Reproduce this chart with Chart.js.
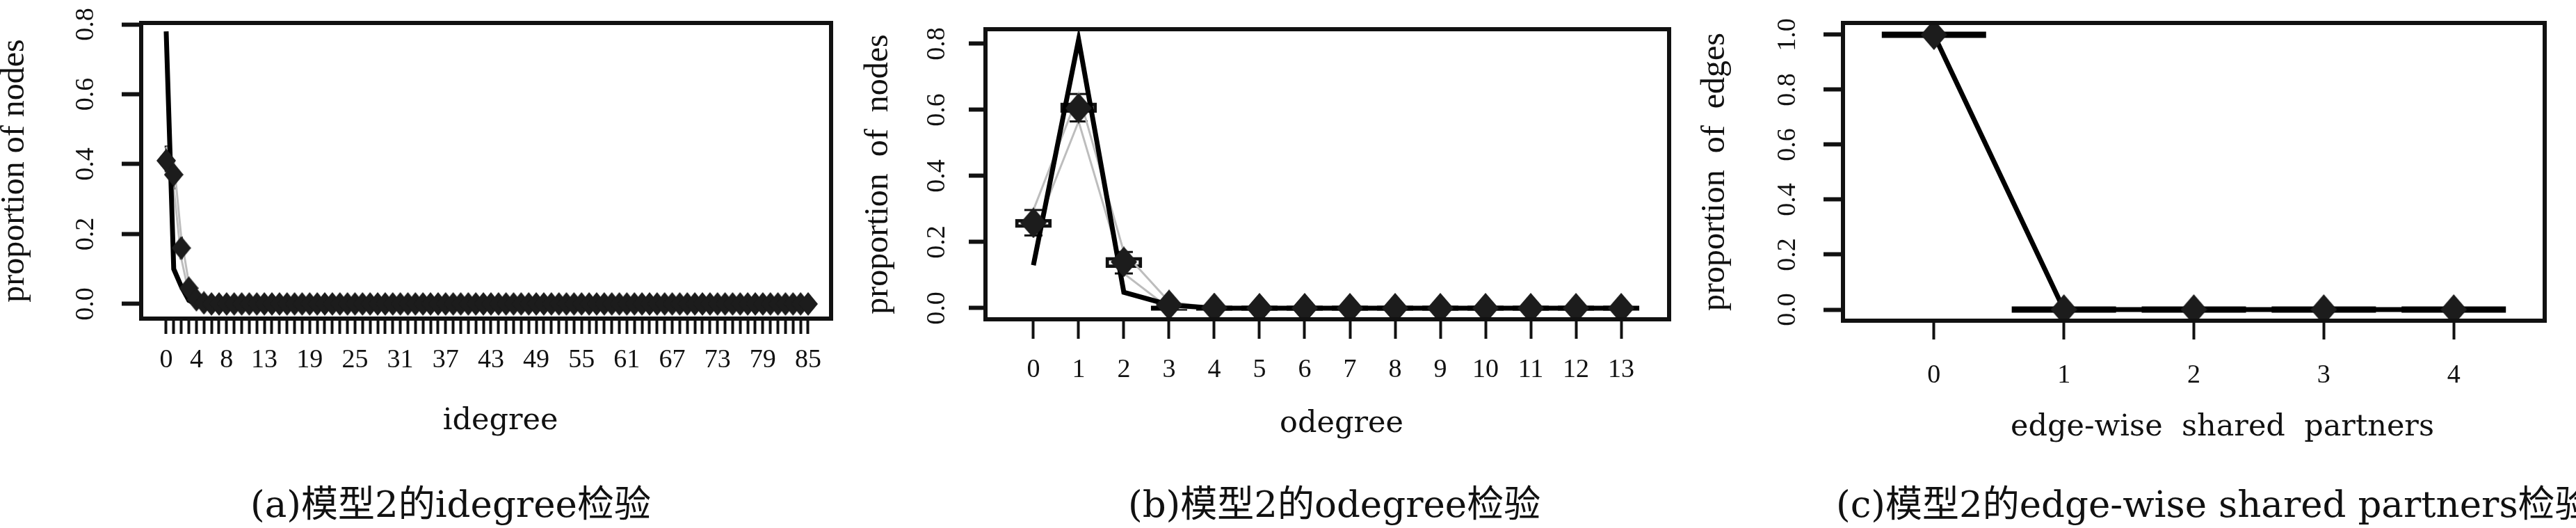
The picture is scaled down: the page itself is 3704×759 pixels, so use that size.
<!DOCTYPE html>
<html>
<head>
<meta charset="utf-8">
<script src="https://cdn.jsdelivr.net/npm/chart.js@4.4.0/dist/chart.umd.min.js"></script>
<style>
  body { margin: 0; background: #fff; width: 3704px; height: 759px; position: relative; overflow: hidden; }
  canvas { position: absolute; top: 0; }
  .cap { position: absolute; top: 698px; font: 53px/53px "DejaVu Serif", "Noto Sans CJK SC", serif; color: #111; white-space: nowrap; }
</style>
</head>
<body>
<canvas id="idegChart" width="1230" height="660" style="left:0px"></canvas>
<canvas id="odegChart" width="1200" height="660" style="left:1240px"></canvas>
<canvas id="espChart" width="1264" height="660" style="left:2440px"></canvas>
<div class="cap" style="left:360px">(a)模型2的idegree检验</div>
<div class="cap" style="left:1622px">(b)模型2的odegree检验</div>
<div class="cap" style="left:2640px">(c)模型2的edge-wise shared partners检验</div>
<script>
// (a) idegree
const idegCats = [0, 1, 2, 3, 4, 5, 6, 7, 8, 9,
  10, 11, 12, 13, 14, 15, 16, 17, 18, 19,
  20, 21, 22, 23, 24, 25, 26, 27, 28, 29,
  30, 31, 32, 33, 34, 35, 36, 37, 38, 39,
  40, 41, 42, 43, 44, 45, 46, 47, 48, 49,
  50, 51, 52, 53, 54, 55, 56, 57, 58, 59,
  60, 61, 62, 63, 64, 65, 66, 67, 68, 69,
  70, 71, 72, 73, 74, 75, 76, 77, 78, 79,
  80, 81, 82, 83, 84, 85];
const idegShown = [0, 4, 8, 13, 19, 25, 31, 37, 43, 49, 55, 61, 67, 73, 79, 85];
const idegObserved = [0.78, 0.10, 0.05, 0.01, 0, 0, 0, 0, 0, 0,
  0, 0, 0, 0, 0, 0, 0, 0, 0, 0,
  0, 0, 0, 0, 0, 0, 0, 0, 0, 0,
  0, 0, 0, 0, 0, 0, 0, 0, 0, 0,
  0, 0, 0, 0, 0, 0, 0, 0, 0, 0,
  0, 0, 0, 0, 0, 0, 0, 0, 0, 0,
  0, 0, 0, 0, 0, 0, 0, 0, 0, 0,
  0, 0, 0, 0, 0, 0, 0, 0, 0, 0,
  0, 0, 0, 0, 0, 0];
const idegMean = [0.41, 0.37, 0.16, 0.045, 0.012, 0.003, 0, 0, 0, 0,
  0, 0, 0, 0, 0, 0, 0, 0, 0, 0,
  0, 0, 0, 0, 0, 0, 0, 0, 0, 0,
  0, 0, 0, 0, 0, 0, 0, 0, 0, 0,
  0, 0, 0, 0, 0, 0, 0, 0, 0, 0,
  0, 0, 0, 0, 0, 0, 0, 0, 0, 0,
  0, 0, 0, 0, 0, 0, 0, 0, 0, 0,
  0, 0, 0, 0, 0, 0, 0, 0, 0, 0,
  0, 0, 0, 0, 0, 0];
const idegQ1 = [0.40, 0.355, 0.15, 0.04, 0.008, 0, 0, 0, 0, 0,
  0, 0, 0, 0, 0, 0, 0, 0, 0, 0,
  0, 0, 0, 0, 0, 0, 0, 0, 0, 0,
  0, 0, 0, 0, 0, 0, 0, 0, 0, 0,
  0, 0, 0, 0, 0, 0, 0, 0, 0, 0,
  0, 0, 0, 0, 0, 0, 0, 0, 0, 0,
  0, 0, 0, 0, 0, 0, 0, 0, 0, 0,
  0, 0, 0, 0, 0, 0, 0, 0, 0, 0,
  0, 0, 0, 0, 0, 0];
const idegQ3 = [0.425, 0.39, 0.17, 0.05, 0.016, 0.005, 0, 0, 0, 0,
  0, 0, 0, 0, 0, 0, 0, 0, 0, 0,
  0, 0, 0, 0, 0, 0, 0, 0, 0, 0,
  0, 0, 0, 0, 0, 0, 0, 0, 0, 0,
  0, 0, 0, 0, 0, 0, 0, 0, 0, 0,
  0, 0, 0, 0, 0, 0, 0, 0, 0, 0,
  0, 0, 0, 0, 0, 0, 0, 0, 0, 0,
  0, 0, 0, 0, 0, 0, 0, 0, 0, 0,
  0, 0, 0, 0, 0, 0];
const idegLo = [0.38, 0.33, 0.13, 0.03, 0, 0, 0, 0, 0, 0,
  0, 0, 0, 0, 0, 0, 0, 0, 0, 0,
  0, 0, 0, 0, 0, 0, 0, 0, 0, 0,
  0, 0, 0, 0, 0, 0, 0, 0, 0, 0,
  0, 0, 0, 0, 0, 0, 0, 0, 0, 0,
  0, 0, 0, 0, 0, 0, 0, 0, 0, 0,
  0, 0, 0, 0, 0, 0, 0, 0, 0, 0,
  0, 0, 0, 0, 0, 0, 0, 0, 0, 0,
  0, 0, 0, 0, 0, 0];
const idegHi = [0.45, 0.41, 0.19, 0.06, 0.02, 0.01, 0, 0, 0, 0,
  0, 0, 0, 0, 0, 0, 0, 0, 0, 0,
  0, 0, 0, 0, 0, 0, 0, 0, 0, 0,
  0, 0, 0, 0, 0, 0, 0, 0, 0, 0,
  0, 0, 0, 0, 0, 0, 0, 0, 0, 0,
  0, 0, 0, 0, 0, 0, 0, 0, 0, 0,
  0, 0, 0, 0, 0, 0, 0, 0, 0, 0,
  0, 0, 0, 0, 0, 0, 0, 0, 0, 0,
  0, 0, 0, 0, 0, 0];

// (b) odegree
const odegCats = [0, 1, 2, 3, 4, 5, 6, 7, 8, 9, 10, 11, 12, 13];
const odegObserved = [0.13, 0.8125, 0.048, 0.01, 0, 0, 0, 0, 0, 0, 0, 0, 0, 0];
const odegMean = [0.258, 0.605, 0.14, 0.01, 0.001, 0, 0, 0, 0, 0, 0, 0, 0, 0];
const odegQ1 = [0.244, 0.592, 0.122, 0, 0, 0, 0, 0, 0, 0, 0, 0, 0, 0];
const odegQ3 = [0.269, 0.621, 0.154, 0, 0, 0, 0, 0, 0, 0, 0, 0, 0, 0];
const odegLo = [0.22, 0.565, 0.105, 0, 0, 0, 0, 0, 0, 0, 0, 0, 0, 0];
const odegHi = [0.297, 0.648, 0.17, 0.02, 0, 0, 0, 0, 0, 0, 0, 0, 0, 0];

// (c) edge-wise shared partners
const espCats = [0, 1, 2, 3, 4];
const espObserved = [1, 0, 0, 0, 0];
const espMean = [1, 0, 0, 0, 0];
const espQ1 = [1, 0, 0, 0, 0];
const espQ3 = [1, 0, 0, 0, 0];
const espLo = [1, 0, 0, 0, 0];
const espHi = [1, 0, 0, 0, 0];

const yTicks08 = [0, 0.2, 0.4, 0.6, 0.8];
const yTicks10 = [0, 0.2, 0.4, 0.6, 0.8, 1.0];

const ink = "#111";
const tickFont = { family: "'Liberation Serif', serif", size: 38, lineHeight: 1.2 };

function diamond(w, h) {
  const c = document.createElement("canvas");
  c.width = w;
  c.height = h;
  const g = c.getContext("2d");
  g.fillStyle = "#1c1c1c";
  g.beginPath();
  g.moveTo(w / 2, 0);
  g.lineTo(w, h / 2);
  g.lineTo(w / 2, h);
  g.lineTo(0, h / 2);
  g.closePath();
  g.fill();
  return c;
}

const frame = {
  id: "frame",
  afterDraw(chart) {
    const { ctx, chartArea: a } = chart;
    ctx.save();
    ctx.lineWidth = 6;
    ctx.strokeStyle = ink;
    ctx.strokeRect(a.left, a.top, a.right - a.left, a.bottom - a.top);
    ctx.restore();
  },
};

function pts(cats, vals) {
  return cats.map((c, i) => ({ x: c, y: vals[i] }));
}

function drawPanel(id, d, s) {
  const boxes = d.cats.map((c, i) => ({ x: c, y: [d.q1[i], d.q3[i]] })).filter((p) => p.y[1] > p.y[0]);
  const flat = d.cats.map((c, i) => ({ x: c, y: d.q1[i] })).filter((p, i) => d.q3[i] === d.q1[i]);
  const whisk = d.cats.map((c, i) => ({ x: c, y: [d.lo[i], d.hi[i]] })).filter((p) => p.y[1] > p.y[0]);
  const caps = whisk.flatMap((p) => [{ x: p.x, y: p.y[0] }, { x: p.x, y: p.y[1] }]);

  return new Chart(document.getElementById(id), {
    type: "scatter",
    data: {
      datasets: [
        { type: "bar", data: whisk, backgroundColor: ink, barThickness: 2, grouped: false, order: 7 },
        { type: "scatter", data: caps, pointStyle: "line", pointRadius: s.capR, pointBorderWidth: 3, pointBorderColor: ink, order: 6 },
        { type: "bar", data: boxes, backgroundColor: "#fff", borderColor: ink, borderWidth: s.boxBorder,
          borderSkipped: false, barThickness: s.boxW, grouped: false, order: 5 },
        { type: "scatter", data: flat, pointStyle: "line", pointRadius: s.boxW / 2, pointBorderWidth: s.medW, pointBorderColor: "#000", order: 4 },
        { type: "line", data: pts(d.cats, d.lo), borderColor: "#bdbdbd", borderWidth: 3, pointRadius: 0, tension: 0, order: 3 },
        { type: "line", data: pts(d.cats, d.hi), borderColor: "#bdbdbd", borderWidth: 3, pointRadius: 0, tension: 0, order: 3 },
        { type: "line", data: pts(d.cats, d.observed), borderColor: "#000", borderWidth: 7, pointRadius: 0, tension: 0, order: 2 },
        { type: "scatter", data: pts(d.cats, d.mean), pointStyle: diamond(s.dw, s.dh), pointRadius: s.dw / 2, order: 1 },
      ],
    },
    plugins: [frame],
    options: {
      responsive: false,
      animation: false,
      devicePixelRatio: 1,
      layout: { autoPadding: false, padding: { left: 0, top: s.top, right: s.right, bottom: 0 } },
      plugins: { legend: { display: false }, tooltip: { enabled: false } },
      scales: {
        x: {
          type: "linear",
          bounds: "data",
          min: s.xMin,
          max: s.xMax,
          offset: false,
          afterBuildTicks: (sc) => { sc.ticks = d.cats.map((v) => ({ value: v })); },
          afterFit: (sc) => { sc.height = s.xHeight; sc.paddingLeft = 0; sc.paddingRight = 0; },
          ticks: {
            autoSkip: false, minRotation: 0, maxRotation: 0, padding: s.xTickPad, color: ink, font: tickFont,
            callback: (v) => (d.shown.includes(v) ? String(v) : ""),
          },
          grid: { drawOnChartArea: false, drawTicks: true, tickLength: s.xTickLen, tickWidth: 4, tickColor: ink, offset: false },
          border: { display: false },
          title: {
            display: true, text: d.xTitle, color: ink,
            font: { family: "'DejaVu Serif', serif", size: 43, lineHeight: 1 },
            padding: { top: 0, bottom: s.xTitlePad },
          },
        },
        y: {
          type: "linear",
          bounds: "data",
          min: s.yMin,
          max: s.yMax,
          afterBuildTicks: (sc) => { sc.ticks = d.yTicks.map((v) => ({ value: v })); },
          afterFit: (sc) => { sc.width = s.yWidth; sc.paddingTop = 0; sc.paddingBottom = 0; },
          ticks: {
            autoSkip: false, minRotation: 90, maxRotation: 90, crossAlign: "center",
            padding: s.yTickPad, color: ink, font: tickFont,
            callback: (v) => v.toFixed(1),
          },
          grid: { drawOnChartArea: false, drawTicks: true, tickLength: s.yTickLen, tickWidth: 6, tickColor: ink },
          border: { display: false },
          title: {
            display: true, text: d.yTitle, color: ink,
            font: { family: "'Liberation Serif', serif", size: 48, lineHeight: 0.9 },
            padding: { top: s.yTitlePad, bottom: 0 },
          },
        },
      },
    },
  });
}

drawPanel("idegChart",
  { cats: idegCats, shown: idegShown, observed: idegObserved, mean: idegMean, q1: idegQ1, q3: idegQ3,
    lo: idegLo, hi: idegHi, yTicks: yTicks08, xTitle: "   idegree", yTitle: "proportion of nodes" },
  { top: 33, right: 35, yWidth: 203, xHeight: 202, xMin: -3.31, xMax: 88.04, yMin: -0.042, yMax: 0.804,
    xTickLen: 22, xTickPad: 15, yTickLen: 28, yTickPad: 27, xTitlePad: 33, yTitlePad: 0,
    boxW: 8.7, boxBorder: 2, medW: 6, capR: 2.2, dw: 28, dh: 34 });

drawPanel("odegChart",
  { cats: odegCats, shown: odegCats, observed: odegObserved, mean: odegMean, q1: odegQ1, q3: odegQ3,
    lo: odegLo, hi: odegHi, yTicks: yTicks08, xTitle: "   odegree", yTitle: "proportion  of  nodes" },
  { top: 42, right: 40, yWidth: 177, xHeight: 201, xMin: -1.06, xMax: 14.06, yMin: -0.0337, yMax: 0.844,
    xTickLen: 28, xTickPad: 22, yTickLen: 24, yTickPad: 21, xTitlePad: 29, yTitlePad: 2,
    boxW: 52, boxBorder: 5, medW: 7, capR: 13, dw: 38, dh: 44 });

drawPanel("espChart",
  { cats: espCats, shown: espCats, observed: espObserved, mean: espMean, q1: espQ1, q3: espQ3,
    lo: espLo, hi: espHi, yTicks: yTicks10, xTitle: "      edge-wise  shared  partners", yTitle: "proportion  of  edges" },
  { top: 33, right: 45, yWidth: 210, xHeight: 199, xMin: -0.7, xMax: 4.7, yMin: -0.0405, yMax: 1.043,
    xTickLen: 27, xTickPad: 29, yTickLen: 28, yTickPad: 27, xTitlePad: 24, yTitlePad: 5,
    boxW: 150, boxBorder: 4, medW: 9, capR: 20, dw: 38, dh: 44 });
</script>
</body>
</html>
